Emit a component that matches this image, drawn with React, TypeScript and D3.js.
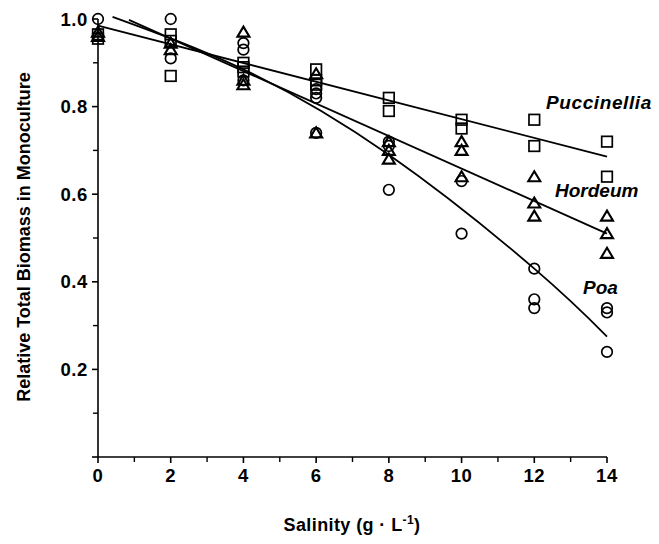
import React from "react";
import * as d3 from "d3";

// ---- data ----
const salinity = [0, 2, 4, 6, 8, 10, 12, 14];

const poaObs: number[][] = [
  [1.0],
  [1.0, 0.91],
  [0.945, 0.93, 0.86],
  [0.84, 0.83, 0.82, 0.74],
  [0.72, 0.71, 0.61],
  [0.63, 0.51],
  [0.43, 0.36, 0.34],
  [0.34, 0.33, 0.24],
];
const hordeumObs: number[][] = [
  [0.97, 0.96],
  [0.945, 0.93],
  [0.97, 0.86, 0.85],
  [0.875, 0.74],
  [0.72, 0.7, 0.68],
  [0.72, 0.7, 0.64],
  [0.64, 0.58, 0.55],
  [0.55, 0.51, 0.465],
];
const puccinelliaObs: number[][] = [
  [0.965, 0.955],
  [0.965, 0.95, 0.87],
  [0.9, 0.89, 0.88],
  [0.885, 0.86, 0.85],
  [0.82, 0.79],
  [0.77, 0.75],
  [0.77, 0.71],
  [0.72, 0.64],
];

const puccinelliaFitX = [0, 14];
const puccinelliaFitY = [0.985, 0.686];
const hordeumFitX = [0.85, 14];
const hordeumFitY = [0.998, 0.51];
const poaFitX = [0.4, 4, 8, 12, 14];
const poaFitY = [1.005, 0.885, 0.69, 0.43, 0.275];

const xMajorTicks = [0, 2, 4, 6, 8, 10, 12, 14];
const xMinorTicks = [1, 3, 5, 7, 9, 11, 13];
const yMajorTicks = [0, 0.2, 0.4, 0.6, 0.8, 1.0];
const yMinorTicks = [0.1, 0.3, 0.5, 0.7, 0.9];
const yTickLabels = ["", "0.2", "0.4", "0.6", "0.8", "1.0"];

const W = 659;
const H = 544;
const FONT = "'Liberation Sans', Arial, Helvetica, sans-serif";

export default function App() {
  const x = d3.scaleLinear().domain([0, 14]).range([98, 607]);
  const y = d3.scaleLinear().domain([0, 1]).range([457, 19]);
  const x0 = x(0);
  const y0 = y(0);

  const straight = d3
    .line<[number, number]>()
    .x((d) => x(d[0]))
    .y((d) => y(d[1]));
  const curved = d3
    .line<[number, number]>()
    .x((d) => x(d[0]))
    .y((d) => y(d[1]))
    .curve(d3.curveNatural);

  const zip = (a: number[], b: number[]) =>
    a.map((v, i) => [v, b[i]] as [number, number]);

  const sw = 1.7;

  const circle = (cx: number, cy: number, k: string) => (
    <circle key={k} cx={cx} cy={cy} r={5.3} fill="none" stroke="#000" strokeWidth={sw} />
  );
  const square = (cx: number, cy: number, k: string) => (
    <rect key={k} x={cx - 5.3} y={cy - 5.3} width={10.6} height={10.6} fill="none" stroke="#000" strokeWidth={sw} />
  );
  const tri = (cx: number, cy: number, k: string) => {
    const h = 10;
    const s = 6;
    const p = `M${cx},${cy - h * 0.55} L${cx + s},${cy + h * 0.45} L${cx - s},${cy + h * 0.45} Z`;
    return <path key={k} d={p} fill="none" stroke="#000" strokeWidth={sw + 0.4} strokeLinejoin="miter" />;
  };

  const points: React.ReactNode[] = [];
  salinity.forEach((s, i) => {
    puccinelliaObs[i].forEach((v, j) => points.push(square(x(s), y(v), `s${i}-${j}`)));
    hordeumObs[i].forEach((v, j) => points.push(tri(x(s), y(v), `t${i}-${j}`)));
    poaObs[i].forEach((v, j) => points.push(circle(x(s), y(v), `c${i}-${j}`)));
  });

  return (
    <svg width={W} height={H} style={{ position: "absolute", left: 0, top: 0, background: "#fff" }}>
      <rect width={W} height={H} fill="#fff" />
      {/* axes */}
      <line x1={x0} y1={y(1)} x2={x0} y2={y0} stroke="#000" strokeWidth={1.6} />
      <line x1={x0} y1={y0} x2={x(14)} y2={y0} stroke="#000" strokeWidth={1.6} />
      {yMajorTicks.map((t, i) => (
        <g key={`ym${i}`}>
          <line x1={x0 - 6} x2={x0} y1={y(t)} y2={y(t)} stroke="#000" strokeWidth={1.6} />
          <text
            x={x0 - 10}
            y={y(t)}
            dy="0.36em"
            textAnchor="end"
            fontFamily={FONT}
            fontWeight="bold"
            fontSize={18.5}
            letterSpacing={0.6}
          >
            {yTickLabels[i]}
          </text>
        </g>
      ))}
      {yMinorTicks.map((t, i) => (
        <line key={`yn${i}`} x1={x0 - 5} x2={x0} y1={y(t)} y2={y(t)} stroke="#000" strokeWidth={1.4} />
      ))}
      {xMajorTicks.map((t, i) => (
        <g key={`xm${i}`}>
          <line x1={x(t)} x2={x(t)} y1={y0} y2={y0 + 6} stroke="#000" strokeWidth={1.6} />
          <text
            x={x(t)}
            y={y0 + 25}
            textAnchor="middle"
            fontFamily={FONT}
            fontWeight="bold"
            fontSize={18.5}
            letterSpacing={0.6}
          >
            {t}
          </text>
        </g>
      ))}
      {xMinorTicks.map((t, i) => (
        <line key={`xn${i}`} x1={x(t)} x2={x(t)} y1={y0} y2={y0 + 5} stroke="#000" strokeWidth={1.4} />
      ))}

      {/* fitted lines */}
      <path d={straight(zip(puccinelliaFitX, puccinelliaFitY)) || ""} fill="none" stroke="#000" strokeWidth={1.8} />
      <path d={straight(zip(hordeumFitX, hordeumFitY)) || ""} fill="none" stroke="#000" strokeWidth={1.8} />
      <path d={curved(zip(poaFitX, poaFitY)) || ""} fill="none" stroke="#000" strokeWidth={1.8} />

      {points}

      {/* series labels */}
      <text x={546} y={109} fontFamily={FONT} fontWeight="bold" fontStyle="italic" fontSize={19} letterSpacing={0.6}>
        Puccinellia
      </text>
      <text x={555} y={197} fontFamily={FONT} fontWeight="bold" fontStyle="italic" fontSize={19}>
        Hordeum
      </text>
      <text x={583} y={294} fontFamily={FONT} fontWeight="bold" fontStyle="italic" fontSize={19}>
        Poa
      </text>

      {/* axis titles */}
      <text
        x={352}
        y={531}
        textAnchor="middle"
        fontFamily={FONT}
        fontWeight="bold"
        fontSize={18}
        letterSpacing={0.4}
      >
        Salinity (g · L
        <tspan dy={-7} fontSize={12}>-1</tspan>
        <tspan dy={7}>)</tspan>
      </text>
      <text
        transform={`translate(30, 237) rotate(-90)`}
        textAnchor="middle"
        fontFamily={FONT}
        fontWeight="bold"
        fontSize={18}
      >
        Relative Total Biomass in Monoculture
      </text>
    </svg>
  );
}
